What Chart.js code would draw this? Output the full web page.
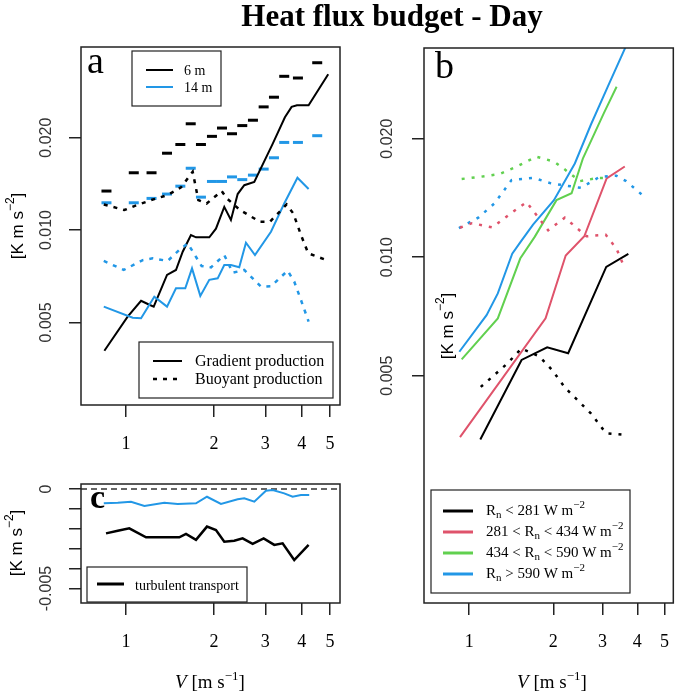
<!DOCTYPE html>
<html>
<head>
<meta charset="utf-8">
<script src="https://cdn.jsdelivr.net/npm/chart.js@4.4.1/dist/chart.umd.min.js"></script>
<style>
  body { margin: 0; background: #fff; }
  #wrap { position: relative; width: 685px; height: 693px; }
  #wrap canvas { position: absolute; left: 0; top: 0; }
</style>
</head>
<body>
<div id="wrap">
  <canvas id="chartA" width="685" height="693"></canvas>
  <canvas id="chartB" width="685" height="693"></canvas>
  <canvas id="chartC" width="685" height="693"></canvas>
</div>
<script>
const SERIF = "'Liberation Serif', 'Times New Roman', serif";
const SANS = "'Liberation Sans', Arial, sans-serif";
const BLUE = '#2297E6', RED = '#DF536B', GREEN = '#61D04F', BLACK = '#000000';

const xTicks = [1, 2, 3, 4, 5];
const yTicksLog = [0.005, 0.01, 0.02];
const yLabelsLog = ['0.005', '0.010', '0.020'];
const yTicksC = [0, -0.001, -0.002, -0.003, -0.004, -0.005];
const yLabelsC = ['0', '', '', '', '', '-0.005'];

// panel a: gradient / buoyant production at 6 m and 14 m
const vGrad6 = [0.843, 1.013, 1.126, 1.187, 1.244, 1.382, 1.483, 1.564, 1.669, 1.737, 1.929, 2.033, 2.171, 2.288, 2.413, 2.542, 2.751, 3.180, 3.503, 3.693, 3.852, 4.223, 4.93];
const grad6 = [0.00404, 0.00522, 0.00588, 0.00574, 0.00563, 0.00714, 0.00741, 0.0085, 0.00963, 0.00947, 0.00947, 0.0101, 0.0119, 0.01078, 0.0131, 0.0140, 0.01434, 0.0191, 0.0233, 0.0252, 0.0255, 0.0255, 0.0322];
const vGrad14 = [0.839, 1.054, 1.126, 1.250, 1.382, 1.483, 1.596, 1.683, 1.797, 1.929, 2.061, 2.171, 2.288, 2.443, 2.576, 2.766, 3.138, 3.484, 3.867, 4.223];
const grad14 = [0.00563, 0.00518, 0.00516, 0.00606, 0.00563, 0.00646, 0.00646, 0.0075, 0.0061, 0.00688, 0.00696, 0.00769, 0.00769, 0.00756, 0.00909, 0.00829, 0.00987, 0.0122, 0.0148, 0.0136];
const vBuoy6 = [0.839, 0.987, 1.068, 1.218, 1.389, 1.543, 1.692, 1.769, 1.889, 2.127, 2.212, 2.457, 2.877, 3.112, 3.550, 3.741, 3.998, 4.21, 4.93];
const buoy6 = [0.01212, 0.01162, 0.01197, 0.01252, 0.0130, 0.01377, 0.0155, 0.01252, 0.0122, 0.0134, 0.0127, 0.01162, 0.01064, 0.01064, 0.01212, 0.01133, 0.00951, 0.0084, 0.00794];
const vBuoy14 = [0.839, 0.982, 1.141, 1.234, 1.389, 1.522, 1.627, 1.816, 1.955, 2.171, 2.320, 2.542, 2.90, 3.138, 3.579, 3.77, 3.975, 4.223];
const buoy14 = [0.00793, 0.00741, 0.00798, 0.00809, 0.00793, 0.00861, 0.00905, 0.00763, 0.00756, 0.00829, 0.00726, 0.00741, 0.00654, 0.00656, 0.00737, 0.00679, 0.00592, 0.00503];
const vTotal = [0.857, 1.063, 1.223, 1.382, 1.535, 1.666, 1.806, 1.970, 2.132, 2.307, 2.502, 2.722, 2.962, 3.213, 3.484, 3.882, 4.52];
const total6 = [0.0134, 0.01537, 0.01537, 0.0178, 0.019, 0.0222, 0.019, 0.0202, 0.0215, 0.0206, 0.0219, 0.0228, 0.0252, 0.0271, 0.0317, 0.0313, 0.0351];
const total14 = [0.01227, 0.01227, 0.01268, 0.0131, 0.0139, 0.0159, 0.0128, 0.0144, 0.0144, 0.0149, 0.0146, 0.0151, 0.0158, 0.0172, 0.0193, 0.0193, 0.0203];

// panel c: turbulent transport
const vTransp6 = [0.854, 0.937, 1.026, 1.171, 1.353, 1.522, 1.605, 1.737, 1.894, 2.033, 2.171, 2.349, 2.509, 2.716, 2.962, 3.221, 3.44, 3.77, 4.223];
const transp6 = [-0.00223, -0.0021, -0.00198, -0.00243, -0.00243, -0.00243, -0.00226, -0.00256, -0.00189, -0.00206, -0.00265, -0.0026, -0.00248, -0.00276, -0.00248, -0.00281, -0.00273, -0.00357, -0.00281];
const vTransp14 = [0.839, 0.937, 1.040, 1.156, 1.353, 1.503, 1.737, 1.894, 2.115, 2.413, 2.542, 2.751, 3.016, 3.180, 3.484, 3.723, 3.975, 4.244];
const transp14 = [-0.00072, -0.00069, -0.00064, -0.00085, -0.00069, -0.00075, -0.00072, -0.00039, -0.00075, -0.00052, -0.00047, -0.00064, -0.00009, -0.00005, -0.00022, -0.00039, -0.0003, -0.0003];

// panel b: classes of net radiation Rn
const rnLabels = [['R', '', ' < 281 W m'], ['281 < R', '', ' < 434 W m'], ['434 < R', '', ' < 590 W m'], ['R', '', ' > 590 W m']];
const vRn1 = [1.096, 1.540, 1.902, 2.261, 3.095, 3.714];
const gradRn1 = [0.00344, 0.00548, 0.0059, 0.0057, 0.00945, 0.0102];
const vRn2 = [0.927, 1.877, 2.216, 2.583, 3.105, 3.606];
const gradRn2 = [0.00349, 0.00699, 0.0101, 0.0113, 0.01585, 0.017];
const vRn3 = [0.940, 1.266, 1.523, 1.716, 2.054, 2.326, 2.552, 3.032, 3.371];
const gradRn3 = [0.0055, 0.00699, 0.00992, 0.01126, 0.01396, 0.01454, 0.0178, 0.0232, 0.0271];
const vRn4 = [0.922, 1.154, 1.266, 1.426, 1.523, 1.693, 2.011, 2.389, 2.726, 3.155, 3.75];
const gradRn4 = [0.00575, 0.00712, 0.00809, 0.0102, 0.0109, 0.0121, 0.01396, 0.0173, 0.0217, 0.0274, 0.036];
const vBuoyRn1 = [1.1, 1.37, 1.539, 1.785, 1.984, 2.203, 2.726, 3.089, 3.677];
const buoyRn1 = [0.00468, 0.00537, 0.00586, 0.00559, 0.00516, 0.00466, 0.00401, 0.00357, 0.00353];
const vBuoyRn2 = [0.927, 1.024, 1.21, 1.426, 1.604, 1.785, 1.918, 2.200, 2.63, 3.083, 3.371, 3.568];
const buoyRn2 = [0.01188, 0.0122, 0.0119, 0.013, 0.0138, 0.0125, 0.0117, 0.0126, 0.0113, 0.0114, 0.0105, 0.00954];
const vBuoyRn3 = [0.940, 1.094, 1.282, 1.483, 1.737, 2.011, 2.177, 2.493, 2.898, 3.138];
const buoyRn3 = [0.0158, 0.016, 0.01625, 0.017, 0.018, 0.0175, 0.0168, 0.0156, 0.0159, 0.0159];
const vBuoyRn4 = [0.919, 1.078, 1.232, 1.418, 1.702, 1.964, 2.512, 2.932, 3.363, 3.648, 4.159];
const buoyRn4 = [0.01185, 0.0126, 0.0137, 0.0157, 0.0159, 0.0154, 0.015, 0.016, 0.0161, 0.0156, 0.0144];

function pts(xs, ys) {
  return xs.map((x, i) => ({ x: x, y: ys[i] }));
}

function line(xs, ys, color, extra) {
  return Object.assign({
    data: pts(xs, ys),
    borderColor: color,
    backgroundColor: color,
    borderWidth: 2,
    pointRadius: 0,
    tension: 0,
    fill: false
  }, extra || {});
}

function marks(xs, ys, color) {
  return line(xs, ys, color, {
    showLine: false, pointStyle: 'line', pointRadius: 5,
    pointBorderWidth: 3, pointBorderColor: color
  });
}

function rich(ctx, parts, x, y, align) {
  let w = 0;
  parts.forEach(p => { ctx.font = p[1]; w += ctx.measureText(p[0]).width; });
  let cx = align === 'center' ? x - w / 2 : x;
  ctx.textAlign = 'left';
  parts.forEach(p => {
    ctx.font = p[1];
    ctx.fillText(p[0], cx, y + (p[2] || 0));
    cx += ctx.measureText(p[0]).width;
  });
}

function frame(ctx, a) {
  ctx.strokeStyle = '#222';
  ctx.lineWidth = 1.5;
  ctx.setLineDash([]);
  ctx.strokeRect(a.left, a.top, a.right - a.left, a.bottom - a.top);
}

function yTickText(ctx, scale, vals, labels, x) {
  vals.forEach((v, i) => {
    if (!labels[i]) return;
    ctx.save();
    ctx.translate(x, scale.getPixelForValue(v));
    ctx.rotate(-Math.PI / 2);
    ctx.textAlign = 'center';
    ctx.textBaseline = 'middle';
    ctx.font = '16px ' + SANS;
    ctx.fillStyle = '#333';
    ctx.fillText(labels[i], 0, 0);
    ctx.restore();
  });
}

function yTitle(ctx, x, y) {
  ctx.save();
  ctx.translate(x, y);
  ctx.rotate(-Math.PI / 2);
  ctx.textBaseline = 'middle';
  ctx.fillStyle = '#000';
  rich(ctx, [['[K m s', '17px ' + SANS], ['\u22122', '12px ' + SANS, -7], [']', '17px ' + SANS]], 0, 0, 'center');
  ctx.restore();
}

function xTitle(ctx, cx, y) {
  ctx.fillStyle = '#000';
  ctx.textBaseline = 'alphabetic';
  rich(ctx, [['V', 'italic 19px ' + SERIF], [' [m s', '19px ' + SERIF], ['\u22121', '13px ' + SERIF, -8], [']', '19px ' + SERIF]], cx, y, 'center');
}

function box(ctx, x, y, w, h) {
  ctx.fillStyle = '#fff';
  ctx.fillRect(x, y, w, h);
  ctx.strokeStyle = '#222';
  ctx.lineWidth = 1.2;
  ctx.setLineDash([]);
  ctx.strokeRect(x, y, w, h);
}

function seg(ctx, x1, x2, y, color, width, dash) {
  ctx.beginPath();
  ctx.strokeStyle = color;
  ctx.lineWidth = width;
  ctx.setLineDash(dash || []);
  ctx.moveTo(x1, y);
  ctx.lineTo(x2, y);
  ctx.stroke();
  ctx.setLineDash([]);
}

function letter(ctx, t, x, y, font) {
  ctx.fillStyle = '#000';
  ctx.font = font;
  ctx.textAlign = 'left';
  ctx.textBaseline = 'alphabetic';
  ctx.fillText(t, x, y);
}

function axisX(min, max) {
  return {
    type: 'logarithmic', min: min, max: max, bounds: 'data',
    afterBuildTicks: s => { s.ticks = xTicks.map(v => ({ value: v })); },
    afterFit: s => { s.height = 55; },
    ticks: {
      callback: v => String(v), color: '#000', font: { family: SERIF, size: 18 },
      padding: 16, maxRotation: 0, autoSkip: false
    },
    grid: { drawOnChartArea: false, tickLength: 12, color: '#222', lineWidth: 1.5 },
    border: { display: false }
  };
}

function axisY(type, min, max, vals, width) {
  return {
    type: type, min: min, max: max, bounds: 'data',
    afterBuildTicks: s => { s.ticks = vals.map(v => ({ value: v })); },
    afterFit: s => { s.width = width; },
    ticks: { display: false },
    grid: { drawOnChartArea: false, tickLength: 12, color: '#222', lineWidth: 1.5 },
    border: { display: false }
  };
}

function options(padding, x, y) {
  return {
    responsive: false, animation: false, devicePixelRatio: 1, events: [],
    layout: { padding: padding },
    plugins: { legend: { display: false }, tooltip: { enabled: false } },
    scales: { x: x, y: y }
  };
}

const dotA = { borderDash: [4, 6], borderWidth: 2.5 };
const dotB = { borderDash: [3, 7], borderWidth: 2.5 };

new Chart(document.getElementById('chartA'), {
  type: 'line',
  data: {
    datasets: [
      line(vBuoy6, buoy6, BLACK, dotA),
      line(vBuoy14, buoy14, BLUE, dotA),
      line(vGrad14, grad14, BLUE),
      line(vGrad6, grad6, BLACK),
      marks(vTotal, total14, BLUE),
      marks(vTotal, total6, BLACK)
    ]
  },
  options: options({ left: 0, top: 47, right: 345, bottom: 233 },
    axisX(0.701, 5.41), axisY('logarithmic', 0.00269, 0.0395, yTicksLog, 81)),
  plugins: [{
    id: 'decorA',
    afterDraw(chart) {
      const ctx = chart.ctx;
      ctx.save();
      frame(ctx, chart.chartArea);
      yTickText(ctx, chart.scales.y, yTicksLog, yLabelsLog, 47);
      yTitle(ctx, 18, 226);
      letter(ctx, 'a', 87, 73, '38px ' + SERIF);
      ctx.fillStyle = '#000';
      ctx.font = 'bold 31px ' + SERIF;
      ctx.textAlign = 'center';
      ctx.textBaseline = 'alphabetic';
      ctx.fillText('Heat flux budget - Day', 392, 26);

      box(ctx, 132, 51, 89, 55);
      seg(ctx, 146, 173, 70, BLACK, 2);
      seg(ctx, 146, 173, 87, BLUE, 2);
      ctx.fillStyle = '#000';
      ctx.font = '14px ' + SERIF;
      ctx.textAlign = 'left';
      ctx.textBaseline = 'middle';
      ctx.fillText('6 m', 184, 71);
      ctx.fillText('14 m', 184, 88);

      box(ctx, 139, 342, 194, 56);
      seg(ctx, 153, 182, 361, BLACK, 2);
      seg(ctx, 153, 182, 379, BLACK, 2.5, [4, 6]);
      ctx.fillStyle = '#000';
      ctx.font = '16px ' + SERIF;
      ctx.textAlign = 'left';
      ctx.textBaseline = 'middle';
      ctx.fillText('Gradient production', 195, 362);
      ctx.fillText('Buoyant production', 195, 380);
      ctx.restore();
    }
  }]
});

new Chart(document.getElementById('chartC'), {
  type: 'line',
  data: {
    datasets: [
      line(vTransp14, transp14, BLUE),
      line(vTransp6, transp6, BLACK, { borderWidth: 2.5 })
    ]
  },
  options: options({ left: 0, top: 484, right: 345, bottom: 35 },
    axisX(0.701, 5.41), axisY('linear', -0.00573, 0.00025, yTicksC, 81)),
  plugins: [{
    id: 'decorC',
    beforeDatasetsDraw(chart) {
      const ctx = chart.ctx, a = chart.chartArea;
      const y0 = chart.scales.y.getPixelForValue(0);
      ctx.save();
      seg(ctx, a.left, a.right, y0, '#333', 1.5, [6, 4]);
      ctx.restore();
    },
    afterDraw(chart) {
      const ctx = chart.ctx;
      ctx.save();
      frame(ctx, chart.chartArea);
      yTickText(ctx, chart.scales.y, yTicksC, yLabelsC, 47);
      yTitle(ctx, 17, 543);
      letter(ctx, 'c', 90, 508, 'bold 34px ' + SERIF);
      box(ctx, 87, 567, 160, 35);
      seg(ctx, 97, 124, 584, BLACK, 3);
      ctx.fillStyle = '#000';
      ctx.font = '14px ' + SERIF;
      ctx.textAlign = 'left';
      ctx.textBaseline = 'middle';
      ctx.fillText('turbulent transport', 135, 586);
      xTitle(ctx, 210, 688);
      ctx.restore();
    }
  }]
});

new Chart(document.getElementById('chartB'), {
  type: 'line',
  data: {
    datasets: [
      line(vBuoyRn1, buoyRn1, BLACK, dotB),
      line(vBuoyRn2, buoyRn2, RED, dotB),
      line(vBuoyRn3, buoyRn3, GREEN, dotB),
      line(vBuoyRn4, buoyRn4, BLUE, dotB),
      line(vRn1, gradRn1, BLACK),
      line(vRn2, gradRn2, RED),
      line(vRn3, gradRn3, GREEN),
      line(vRn4, gradRn4, BLUE)
    ]
  },
  options: options({ left: 345, top: 48, right: 2, bottom: 35 },
    axisX(0.689, 5.38), axisY('logarithmic', 0.001322, 0.0340, yTicksLog, 79)),
  plugins: [{
    id: 'decorB',
    afterDraw(chart) {
      const ctx = chart.ctx;
      const colors = [BLACK, RED, GREEN, BLUE];
      const rows = [511, 532, 553, 574];
      ctx.save();
      frame(ctx, chart.chartArea);
      yTickText(ctx, chart.scales.y, yTicksLog, yLabelsLog, 388);
      yTitle(ctx, 448, 326);
      letter(ctx, 'b', 435, 78, '38px ' + SERIF);
      box(ctx, 431, 490, 199, 103);
      rnLabels.forEach((lab, i) => {
        seg(ctx, 443, 473, rows[i], colors[i], 3);
        ctx.fillStyle = '#000';
        ctx.textBaseline = 'middle';
        rich(ctx, [
          [lab[0], '15px ' + SERIF],
          ['n', '11px ' + SERIF, 4],
          [lab[2], '15px ' + SERIF],
          ['\u22122', '11px ' + SERIF, -6]
        ], 486, rows[i], 'left');
      });
      xTitle(ctx, 552, 688);
      ctx.restore();
    }
  }]
});
</script>
</body>
</html>
